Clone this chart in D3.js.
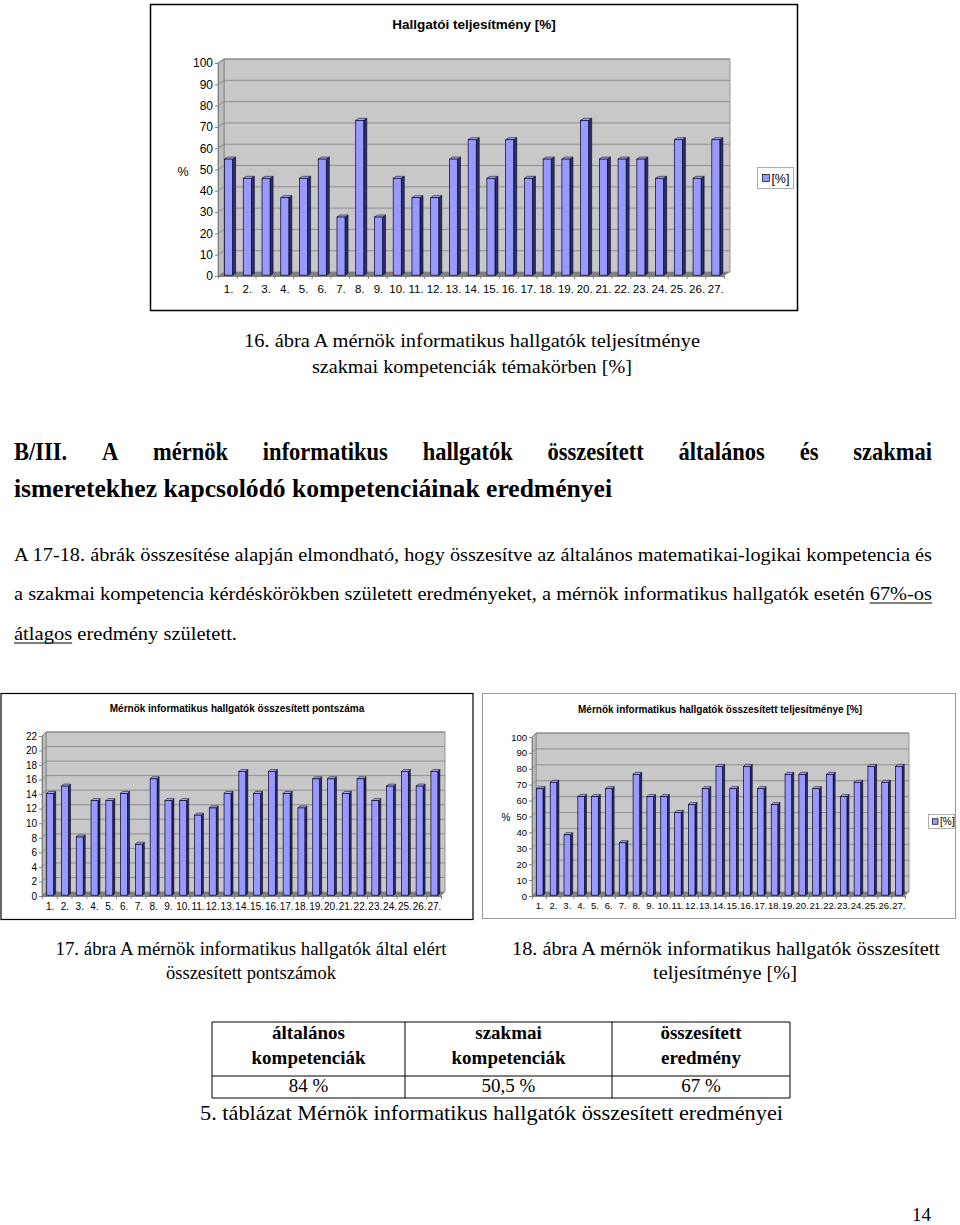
<!DOCTYPE html>
<html>
<head>
<meta charset="utf-8">
<script src="https://cdn.jsdelivr.net/npm/d3@7"></script>
<style>
body { margin: 0; background: #fff; }
svg { display: block; }
</style>
</head>
<body>
<script>
var SANS = 'Liberation Sans, Arial, sans-serif';
var SERIF = 'Liberation Serif, Times New Roman, serif';

// chart data
var categories = d3.range(1, 28).map(function(i) { return i + '.'; });
var teljesitmeny = [54.5, 45.5, 45.5, 36.4, 45.5, 54.5, 27.3, 72.7, 27.3, 45.5, 36.4, 36.4, 54.5, 63.6,
	45.5, 63.6, 45.5, 54.5, 54.5, 72.7, 54.5, 54.5, 54.5, 45.5, 63.6, 45.5, 63.6];
var pontszam = [14, 15, 8, 13, 13, 14, 7, 16, 13, 13, 11, 12, 14, 17, 14, 17, 14, 12, 16, 16, 14, 16, 13, 15, 17, 15, 17];
var osszTeljesitmeny = [67, 71, 38, 62, 62, 67, 33, 76, 62, 62, 52, 57, 67, 81, 67, 81, 67, 57, 76, 76, 67, 76, 62, 71, 81, 71, 81];
var pctTicks = [0, 10, 20, 30, 40, 50, 60, 70, 80, 90, 100];
var pontTicks = [0, 2, 4, 6, 8, 10, 12, 14, 16, 18, 20, 22];

// table data
var tableHead = [['általános', 'kompetenciák'], ['szakmai', 'kompetenciák'], ['összesített', 'eredmény']];
var tableValues = ['84 %', '50,5 %', '67 %'];

var svg = d3.select('body').append('svg').attr('width', 960).attr('height', 1225);

var measure = svg.append('text').attr('x', -1000).attr('y', -1000);
var text_width = function(txt, size, weight, family) {
	measure.attr('font-size', size).attr('font-weight', weight || 'normal').attr('font-family', family || SERIF).text(txt);
	return measure.node().getComputedTextLength();
}

var draw_chart = function(svg, c, data) {
	var g = svg.append('g');
	var dx = c.depth[0], dy = c.depth[1];
	var x = d3.scaleBand().domain(categories).range([c.x0, c.x1]).paddingInner(c.pad).paddingOuter(c.pad / 2);
	var edge = d3.scaleLinear().domain([0, categories.length]).range([c.x0, c.x1]);
	var y = d3.scaleLinear().domain([0, c.max]).range([c.y0, c.yTop]);
	var yt = y(c.max), yb = y(0);

	g.append('rect')
	    .attr('x', c.frame[0]).attr('y', c.frame[1])
	    .attr('width', c.frame[2]).attr('height', c.frame[3])
	    .attr('fill', '#fff')
	    .attr('stroke', c.frameColor)
	    .attr('stroke-width', c.frameWidth);

	g.append('text')
	    .attr('x', c.titleX).attr('y', c.titleY)
	    .attr('text-anchor', 'middle')
	    .attr('font-family', SANS).attr('font-weight', 'bold').attr('font-size', c.titleSize)
	    .text(c.title);

	// walls
	g.append('path')
	    .attr('d', 'M' + (c.x0 + dx) + ',' + (yt + dy) + 'H' + (c.x1 + dx) + 'V' + (yb + dy) + 'H' + (c.x0 + dx) + 'Z')
	    .attr('fill', '#c8c8c8').attr('stroke', '#808080').attr('stroke-width', 0.8);
	g.append('path')
	    .attr('d', 'M' + c.x0 + ',' + yt + 'L' + (c.x0 + dx) + ',' + (yt + dy) + 'V' + (yb + dy) + 'L' + c.x0 + ',' + yb + 'Z')
	    .attr('fill', '#bdbdbd').attr('stroke', '#808080').attr('stroke-width', 0.8);

	// gridlines
	g.selectAll('path.grid')
	    .data(c.ticks.slice(1))
	    .enter()
	    .append('path')
	    .attr('class', 'grid')
	    .attr('d', function(t) {
	        return 'M' + c.x0 + ',' + y(t) + 'L' + (c.x0 + dx) + ',' + (y(t) + dy) + 'H' + (c.x1 + dx);
	    })
	    .attr('fill', 'none').attr('stroke', '#868686').attr('stroke-width', 0.9);

	// floor
	g.append('path')
	    .attr('d', 'M' + c.x0 + ',' + yb + 'H' + c.x1 + 'L' + (c.x1 + dx) + ',' + (yb + dy) + 'H' + (c.x0 + dx) + 'Z')
	    .attr('fill', '#808080');

	// bars
	var ox = dx * 0.2, oy = dy * 0.2, bx = dx * 0.5, by = dy * 0.5;
	var w = x.bandwidth();
	var bars = g.selectAll('g.bar')
	    .data(data)
	    .enter()
	    .append('g')
	    .attr('class', 'bar');

	bars.append('path')
	    .attr('d', function(d, i) {
	        var l = x(categories[i]) + ox + w, t = y(d) + oy, b = yb + oy;
	        return 'M' + l + ',' + t + 'L' + (l + bx) + ',' + (t + by) + 'V' + (b + by) + 'L' + l + ',' + b + 'Z';
	    })
	    .attr('fill', '#2d2d6e').attr('stroke', '#000022').attr('stroke-width', 0.6);
	bars.append('path')
	    .attr('d', function(d, i) {
	        var l = x(categories[i]) + ox, t = y(d) + oy;
	        return 'M' + l + ',' + t + 'L' + (l + bx) + ',' + (t + by) + 'H' + (l + w + bx) + 'L' + (l + w) + ',' + t + 'Z';
	    })
	    .attr('fill', '#b8b8f0').attr('stroke', '#000022').attr('stroke-width', 0.6);
	bars.append('rect')
	    .attr('x', function(d, i) { return x(categories[i]) + ox; })
	    .attr('y', function(d) { return y(d) + oy; })
	    .attr('width', w)
	    .attr('height', function(d) { return yb - y(d); })
	    .attr('fill', '#9999ff').attr('stroke', '#000022').attr('stroke-width', 0.7);

	// value axis
	var ga = g.append('g')
	    .attr('transform', 'translate(' + c.x0 + ',0)')
	    .call(d3.axisLeft(y).tickValues(c.ticks).tickSize(c.tick).tickSizeOuter(0).tickPadding(2));
	ga.select('.domain').attr('stroke', '#808080');
	ga.selectAll('line').attr('stroke', '#808080');
	ga.selectAll('text').attr('font-family', SANS).attr('font-size', c.fontSize).attr('fill', '#000');

	// category axis
	var gb = g.append('g')
	    .attr('transform', 'translate(0,' + yb + ')')
	    .call(d3.axisBottom(edge).tickValues(d3.range(0, categories.length + 1)).tickFormat('').tickSize(3).tickSizeOuter(0));
	gb.select('.domain').attr('stroke', '#808080');
	gb.selectAll('line').attr('stroke', '#808080');

	var gc = g.append('g')
	    .attr('transform', 'translate(' + ox + ',' + yb + ')')
	    .call(d3.axisBottom(x).tickSize(0).tickPadding(c.labelPad));
	gc.select('.domain').remove();
	gc.selectAll('text').attr('font-family', SANS).attr('font-size', c.labelSize).attr('fill', '#000');

	if (c.ylab) {
		g.append('text')
		    .attr('x', c.ylab[0]).attr('y', c.ylab[1])
		    .attr('text-anchor', 'middle')
		    .attr('font-family', SANS).attr('font-size', c.ylab[2])
		    .text('%');
	}

	if (c.legend) {
		var lg = c.legend;
		g.append('rect')
		    .attr('x', lg[0]).attr('y', lg[1]).attr('width', lg[2]).attr('height', lg[3])
		    .attr('fill', '#fff').attr('stroke', '#9a9a9a').attr('stroke-width', 0.8);
		var s = lg[4] * 0.55;
		g.append('rect')
		    .attr('x', lg[0] + lg[4] * 0.4).attr('y', lg[1] + lg[3] / 2 - s / 2)
		    .attr('width', s).attr('height', s)
		    .attr('fill', '#9999ff').attr('stroke', '#000').attr('stroke-width', 0.7);
		g.append('text')
		    .attr('x', lg[0] + lg[4] * 0.4 + s + 2).attr('y', lg[1] + lg[3] / 2 + lg[4] * 0.36)
		    .attr('font-family', SANS).attr('font-size', lg[4])
		    .text('[%]');
	}
}

var put_text = function(txt, x, y, size, anchor, len, weight) {
	var t = svg.append('text')
	    .attr('x', x).attr('y', y)
	    .attr('font-family', SERIF).attr('font-size', size)
	    .attr('font-weight', weight || 'normal')
	    .attr('text-anchor', anchor || 'start')
	    .text(txt);
	if (len) t.attr('textLength', len).attr('lengthAdjust', 'spacingAndGlyphs');
	return t;
}

// justified line with wide word gaps, glyphs a bit condensed
var justify_words = function(line, x0, x1, y, size, weight, squeeze) {
	var words = line.split(' ');
	var widths = words.map(function(wd) { return text_width(wd, size, weight) * squeeze; });
	var gap = (x1 - x0 - d3.sum(widths)) / (words.length - 1);
	var pos = x0;
	words.forEach(function(wd, i) {
		put_text(wd, pos, y, size, 'start', widths[i], weight);
		pos += widths[i] + gap;
	});
}

var underline = function(line, word, x0, len, y, size) {
	var k = len / text_width(line, size);
	var i = line.indexOf(word);
	var b = x0 + text_width(line.slice(0, i) + word, size) * k;
	var a = b - text_width(word, size) * k;
	svg.append('line').attr('x1', a).attr('x2', b).attr('y1', y + 3).attr('y2', y + 3)
	    .attr('stroke', '#000').attr('stroke-width', 1.1);
}

draw_chart(svg, {
	frame: [150.5, 4.5, 647, 306], frameColor: '#000', frameWidth: 1.5,
	title: 'Hallgatói teljesítmény [%]', titleX: 474, titleY: 29, titleSize: 13.5,
	x0: 218, x1: 724, y0: 276, yTop: 63, depth: [6, -4], pad: 0.57,
	max: 100, ticks: pctTicks, tick: 3, fontSize: 12, labelSize: 11.5, labelPad: 9,
	ylab: [183, 176, 12.5], legend: [757.5, 167.5, 36, 21, 12.5]
}, teljesitmeny);

draw_chart(svg, {
	frame: [1, 693.5, 472, 226], frameColor: '#000', frameWidth: 1.2,
	title: 'Mérnök informatikus hallgatók összesített pontszáma', titleX: 237, titleY: 712, titleSize: 10,
	x0: 42, x1: 441, y0: 896, yTop: 736, depth: [4, -4], pad: 0.53,
	max: 22, ticks: pontTicks, tick: 3, fontSize: 10, labelSize: 10, labelPad: 7
}, pontszam);

draw_chart(svg, {
	frame: [482.5, 693.5, 473, 225], frameColor: '#9a9a9a', frameWidth: 1,
	title: 'Mérnök informatikus hallgatók összesített teljesítménye [%]', titleX: 720, titleY: 713, titleSize: 10,
	x0: 532, x1: 905, y0: 896, yTop: 737, depth: [4, -4], pad: 0.52,
	max: 100, ticks: pctTicks, tick: 3, fontSize: 9.5, labelSize: 9.5, labelPad: 6,
	ylab: [506, 821, 10], legend: [928.5, 814.5, 26, 14, 10]
}, osszTeljesitmeny);

// figure captions
put_text('16. ábra A mérnök informatikus hallgatók teljesítménye', 472, 347, 19, 'middle', 456);
put_text('szakmai kompetenciák témakörben [%]', 472, 373, 19, 'middle', 320);

// heading
justify_words('B/III. A mérnök informatikus hallgatók összesített általános és szakmai', 14, 932, 460, 25, 'bold', 0.9);
put_text('ismeretekhez kapcsolódó kompetenciáinak eredményei', 14, 497, 25, 'start', 598, 'bold');

// paragraph
var p1 = 'A 17-18. ábrák összesítése alapján elmondható, hogy összesítve az általános matematikai-logikai kompetencia és';
var p2 = 'a szakmai kompetencia kérdéskörökben született eredményeket, a mérnök informatikus hallgatók esetén 67%-os';
var p3 = 'átlagos eredmény született.';
put_text(p1, 14, 561, 19, 'start', 918);
put_text(p2, 14, 600, 19, 'start', 918);
put_text(p3, 14, 640, 19, 'start', 223);
underline(p2, '67%-os', 14, 918, 600, 19);
underline(p3, 'átlagos', 14, 223, 640, 19);

put_text('17. ábra A mérnök informatikus hallgatók által elért', 251, 955, 19, 'middle', 391);
put_text('összesített pontszámok', 251, 979, 19, 'middle', 170);
put_text('18. ábra A mérnök informatikus hallgatók összesített', 726, 955, 19, 'middle', 428);
put_text('teljesítménye [%]', 725, 979, 19, 'middle', 144);

// table
var colEdges = [212, 405, 612, 790];
var rowEdges = [1022, 1076, 1098];
var tg = svg.append('g');
rowEdges.forEach(function(r) {
	tg.append('line').attr('x1', colEdges[0]).attr('x2', colEdges[3]).attr('y1', r).attr('y2', r)
	    .attr('stroke', '#000').attr('stroke-width', 1);
});
colEdges.forEach(function(cx) {
	tg.append('line').attr('x1', cx).attr('x2', cx).attr('y1', rowEdges[0]).attr('y2', rowEdges[2])
	    .attr('stroke', '#000').attr('stroke-width', 1);
});
tableHead.forEach(function(h, i) {
	var cx = (colEdges[i] + colEdges[i + 1]) / 2;
	put_text(h[0], cx, 1039, 19, 'middle', null, 'bold');
	put_text(h[1], cx, 1064, 19, 'middle', null, 'bold');
	put_text(tableValues[i], cx, 1092, 19, 'middle');
});
put_text('5. táblázat Mérnök informatikus hallgatók összesített eredményei', 491.5, 1120, 21, 'middle', 583);

put_text('14', 931, 1221, 19, 'end');
measure.remove();
</script>
</body>
</html>
